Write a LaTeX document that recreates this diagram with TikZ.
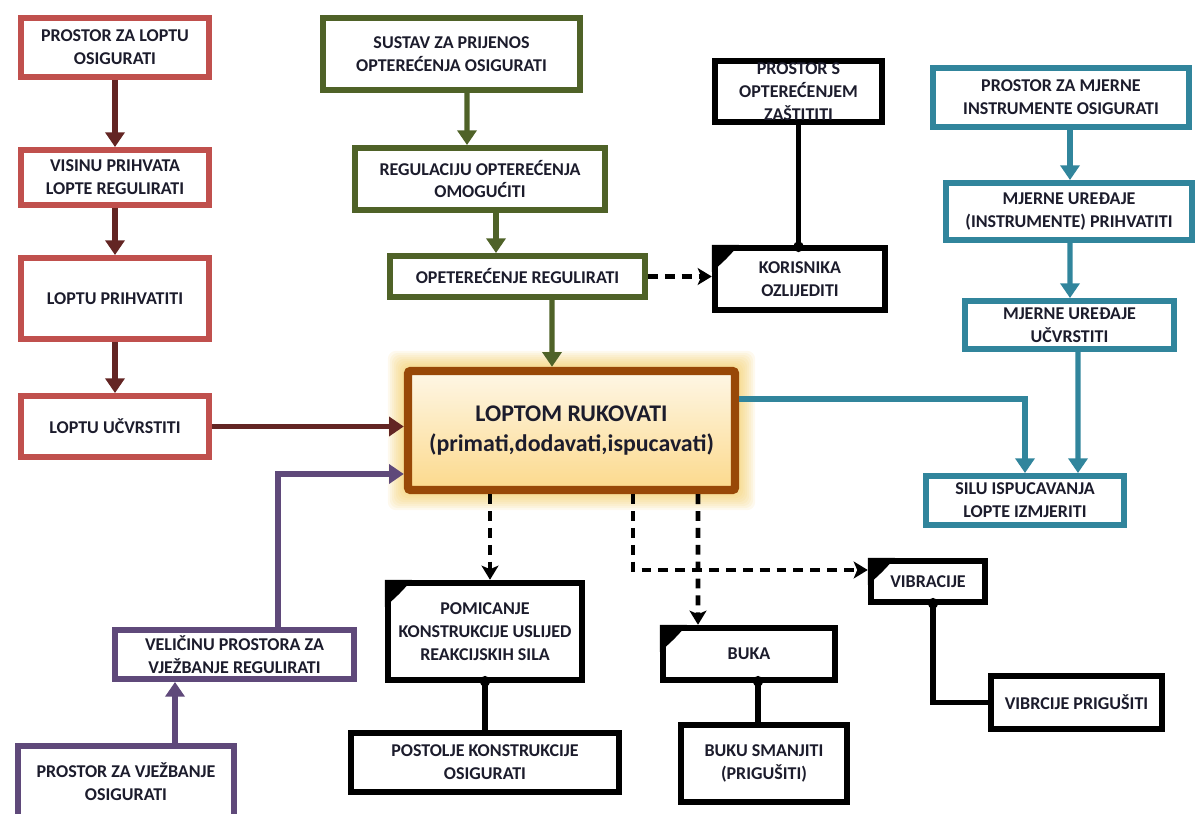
\documentclass[tikz,border=0pt]{standalone}
\usepackage{fontspec}
\setmainfont{Carlito}
\usetikzlibrary{arrows.meta,calc,shadows,backgrounds}
\definecolor{cred}{HTML}{C0504D}
\definecolor{credarr}{HTML}{632523}
\definecolor{cgreen}{HTML}{4F6228}
\definecolor{cteal}{HTML}{31859C}
\definecolor{cpurple}{HTML}{5F497A}
\definecolor{cbrown}{HTML}{984807}
\definecolor{ctop}{HTML}{FEF7E6}
\definecolor{cbot}{HTML}{FCD98C}
\definecolor{cglow}{HTML}{F0C040}
\definecolor{ctext}{HTML}{1C1C2C}
\newcommand{\dogear}[1]{\fill[black] (#1.north west) -- ($(#1.north west)+(27,0)$) .. controls ($(#1.north west)+(19,10)$) and ($(#1.north west)+(10,19)$) .. ($(#1.north west)+(0,27)$) -- cycle;}
\begin{document}
\begin{tikzpicture}[x=0.025cm,y=-0.025cm,
  sz/.style 2 args={minimum width={(#1-6)*0.025cm}, minimum height={(#2-6)*0.025cm}},
  base/.style={rectangle, fill=white, align=center, text=ctext, inner sep=1pt,
    font=\fontsize{12.8}{16.3}\selectfont\bfseries,
    drop shadow={shadow xshift=1.5pt,shadow yshift=-1.5pt,opacity=0.3,fill=black!45}},
  rbox/.style={base, draw=cred, line width=4.2pt},
  gbox/.style={base, draw=cgreen, line width=4.2pt},
  tbox/.style={base, draw=cteal, line width=4.2pt},
  pbox/.style={base, draw=cpurple, line width=4.2pt},
  kbox/.style={base, draw=black, line width=4.6pt},
  mainbox/.style={rectangle, draw=cbrown, line width=6pt, rounded corners=2pt,
    top color=ctop, bottom color=cbot, align=center, text=ctext,
    font=\fontsize{17}{21.5}\selectfont\bfseries},
  arr/.style={line width=3.8pt, -{Triangle[width=13.5pt,length=10.5pt]}},
  dasharr/.style={draw=black, line width=3.4pt, dash pattern=on 7pt off 5pt,
    -{Stealth[width=12pt,length=10pt,inset=2.5pt]}},
  link/.style={draw=black, line width=4pt},
  jdot/.style={fill=black}]
\useasboundingbox (0,0) rectangle (1197,814);

% red column
\node[rbox, sz={194}{65}] (r1) at (115,47.5) {PROSTOR ZA LOPTU\\OSIGURATI};
\node[rbox, sz={194}{61}] (r2) at (115,177.5) {VISINU PRIHVATA\\LOPTE REGULIRATI};
\node[rbox, sz={194}{87}] (r3) at (115,298.5) {LOPTU PRIHVATITI};
\node[rbox, sz={194}{67}] (r4) at (115,426.5) {LOPTU UČVRSTITI};

% green column
\node[gbox, sz={263}{78}] (g1) at (451.5,54) {SUSTAV ZA PRIJENOS\\OPTEREĆENJA OSIGURATI};
\node[gbox, sz={256}{68}] (g2) at (480,179) {REGULACIJU OPTEREĆENJA\\OMOGUĆITI};
\node[gbox, sz={261}{47}] (g3) at (517.5,276.5) {OPETEREĆENJE REGULIRATI};

% black top
\node[kbox, sz={173}{67}, inner sep=0pt] (k1) at (798.5,91.5) {PROSTOR S\\OPTEREĆENJEM\\ZAŠTITITI};
\node[kbox, sz={176}{68}] (k2) at (800,279) {KORISNIKA\\OZLIJEDITI};

% teal column
\node[tbox, sz={262}{65}] (t1) at (1061,97.5) {PROSTOR ZA MJERNE\\INSTRUMENTE OSIGURATI};
\node[tbox, sz={252}{63}] (t2) at (1069,211.5) {MJERNE UREĐAJE\\(INSTRUMENTE) PRIHVATITI};
\node[tbox, sz={215}{54}] (t3) at (1069.5,325) {MJERNE UREĐAJE\\UČVRSTITI};
\node[tbox, sz={204}{55}] (t4) at (1025,500.5) {SILU ISPUCAVANJA\\LOPTE IZMJERITI};

% main
\node[mainbox, sz={333}{125}] (main) at (571.5,430.5) {LOPTOM RUKOVATI\\(primati,dodavati,ispucavati)};
\begin{scope}[on background layer]
\foreach \d in {2,4,...,16}
  \fill[cglow, opacity=0.09, rounded corners=6pt] ($(main.north west)+(-\d,-\d)$) rectangle ($(main.south east)+(\d,\d)$);
\end{scope}

% purple
\node[pbox, sz={245}{55}] (p1) at (234.5,654.5) {VELIČINU PROSTORA ZA\\VJEŽBANJE REGULIRATI};
\node[pbox, sz={222}{78}] (p2) at (126,782) {PROSTOR ZA VJEŽBANJE\\OSIGURATI};

% black bottom
\node[kbox, sz={200}{103}] (b1) at (485,631.5) {POMICANJE\\KONSTRUKCIJE USLIJED\\REAKCIJSKIH SILA};
\node[kbox, sz={274}{65}] (b2) at (485,762.5) {POSTOLJE KONSTRUKCIJE\\OSIGURATI};
\node[kbox, sz={178}{58}] (b3) at (749,654) {BUKA};
\node[kbox, sz={172}{83}] (b4) at (764,763.5) {BUKU SMANJITI\\(PRIGUŠITI)};
\node[kbox, sz={120}{47}] (v) at (928,581.5) {VIBRACIJE};
\node[kbox, sz={177}{59}] (vp) at (1076.5,702.5) {VIBRCIJE PRIGUŠITI};

\dogear{k2}
\dogear{b1}
\dogear{b3}
\dogear{v}

% red arrows
\draw[arr, credarr] (r1.south) -- (r2.north);
\draw[arr, credarr] (r2.south) -- (r3.north);
\draw[arr, credarr] (r3.south) -- (r4.north);
\draw[arr, credarr] (r4.east) -- (r4.east -| main.west);

% green arrows
\draw[arr, cgreen] ($(g1.south)+(15.5,0)$) -- ($(g2.north)+(-13,0)$);
\draw[arr, cgreen] ($(g2.south)+(16,0)$) -- ($(g3.north)+(-21.5,0)$);
\draw[arr, cgreen] ($(g3.south)+(34.5,0)$) -- ($(main.north)+(-19.5,0)$);
\draw[dasharr] (g3.east) -- (k2.west |- g3.east);

% black top link
\draw[link] (k1.south) -- (k1.south |- k2.north);
\fill[jdot] ($(k1.south |- k2.north)+(0,2)$) circle (3.8pt);

% teal arrows
\draw[arr, cteal] ($(t1.south)+(9,0)$) -- ($(t2.north)+(1,0)$);
\draw[arr, cteal] ($(t2.south)+(1,0)$) -- ($(t3.north)+(0.5,0)$);
\draw[arr, cteal] ($(t3.south)+(8.5,0)$) -- ($(t4.north)+(53,0)$);
\draw[arr, cteal] ($(main.east)+(0,-31.5)$) -| (t4.north);

% purple arrows
\draw[arr, cpurple] ($(p2.north)+(49,0)$) -- ($(p1.south)+(-59.5,0)$);
\draw[arr, cpurple] ($(p1.north)+(43.5,0)$) |- ($(main.west)+(0,43.5)$);

% black dashed from main
\draw[dasharr] ($(main.south)+(-81.5,0)$) -- ($(b1.north)+(5,0)$);
\draw[dasharr] ($(main.south)+(126.5,0)$) -- ($(b3.north)+(-51,0)$);
\draw[dasharr] ($(main.south)+(61.5,0)$) |- ($(v.west)+(0,-11.5)$);

% black links
\draw[link] (b1.south) -- (b2.north);
\fill[jdot] ($(b1.south)+(0,-2)$) circle (3.8pt);
\draw[link] ($(b3.south)+(9,0)$) -- ($(b4.north)+(-6,0)$);
\fill[jdot] ($(b3.south)+(9,-2)$) circle (3.8pt);
\draw[link] ($(v.south)+(5,0)$) |- (vp.west);
\fill[jdot] ($(v.south)+(5,-2)$) circle (3.8pt);
\end{tikzpicture}
\end{document}
